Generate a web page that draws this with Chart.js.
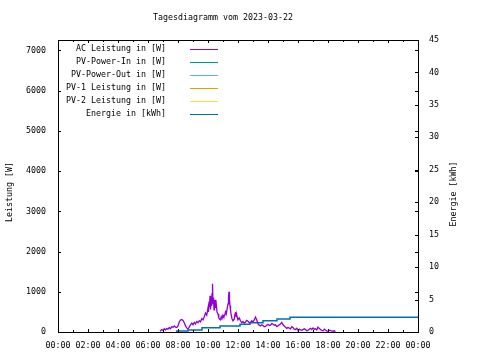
<!DOCTYPE html>
<html><head><meta charset="utf-8">
<script src="https://cdn.jsdelivr.net/npm/chart.js@4/dist/chart.umd.min.js"></script>
<style>html,body{margin:0;padding:0;background:#fff}#c{display:block}</style>
</head><body>
<canvas id="c" width="480" height="360"></canvas>
<script>
const chartTitle = 'Tagesdiagramm vom 2023-03-22';
const leftAxisTitle = 'Leistung [W]';
const rightAxisTitle = 'Energie [kWh]';
const seriesLabels = ['AC Leistung in [W]','PV-Power-In in [W]','PV-Power-Out in [W]','PV-1 Leistung in [W]','PV-2 Leistung in [W]','Energie in [kWh]'];
const seriesColors = ['#9400d3','#009e73','#56b4e9','#e69f00','#f0e442','#0072b2'];
const xTickHours = [0,2,4,6,8,10,12,14,16,18,20,22,24];
const leftTicks = [0,1000,2000,3000,4000,5000,6000,7000];
const rightTicks = [0,5,10,15,20,25,30,35,40,45];

const acTimes = ['06:48','06:55','07:00','07:05','07:10','07:15','07:20','07:25','07:30','07:35','07:40','07:45','07:50','07:55',
 '08:00','08:05','08:10','08:15','08:20','08:25','08:30','08:35','08:40','08:45','08:50','08:55',
 '09:00','09:05','09:10','09:15','09:20','09:25','09:30','09:35','09:40','09:45','09:50','09:55',
 '10:00','10:02','10:04','10:06','10:08','10:10','10:12','10:14','10:16','10:18','10:20','10:22','10:24','10:26','10:28','10:30','10:33','10:36','10:40','10:43','10:46','10:50','10:53','10:56',
 '11:00','11:03','11:06','11:10','11:13','11:16','11:20','11:22','11:24','11:26','11:28','11:30','11:32','11:36','11:40','11:45','11:48','11:50','11:53','11:55',
 '12:00','12:05','12:10','12:15','12:20','12:25','12:30','12:35','12:40','12:45','12:50','12:55','13:00','13:05','13:10','13:15','13:20','13:25','13:30','13:35','13:40','13:45','13:50','13:55',
 '14:00','14:05','14:10','14:15','14:20','14:25','14:30','14:35','14:40','14:45','14:50','14:55','15:00','15:05','15:10','15:15','15:20','15:25','15:30','15:35','15:40','15:45','15:50','15:55',
 '16:00','16:05','16:10','16:15','16:20','16:25','16:30','16:35','16:40','16:45','16:50','16:55','17:00','17:05','17:10','17:15','17:20','17:25','17:30','17:35','17:40','17:45','17:50','17:55','18:00','18:05','18:10','18:15','18:20','18:25','18:30'];
const acPower = [20,60,40,80,50,90,70,110,80,130,120,150,120,110,
 150,250,300,310,290,230,150,100,80,120,180,220,
 180,240,200,260,230,280,250,330,300,380,470,420,
 600,500,750,620,900,560,800,650,950,1200,700,850,550,650,800,600,700,500,450,350,320,300,380,330,
 420,380,400,500,450,560,700,850,1000,800,650,550,450,330,280,320,450,500,380,420,
 300,350,280,230,260,220,250,290,270,230,240,280,250,300,370,300,200,170,150,180,160,130,140,170,
 190,160,170,210,200,170,180,140,150,180,200,240,180,150,120,90,110,100,80,130,110,70,60,90,
 40,70,50,40,60,80,60,30,40,70,90,60,100,70,80,50,120,90,60,40,30,70,50,30,20,40,40,20,20,30,10];

const energyTimes = ['07:55','08:40','09:36','10:48','12:08','12:48','13:40','14:36','15:28','17:24','24:00'];
const energyKWh = [0,0.15,0.3,0.66,0.92,1.18,1.43,1.74,2.0,2.26,2.26];

const toH = s => { const [h,m] = s.split(':').map(Number); return h + m/60; };
const pts = (t, v) => t.map((s,i) => ({x: toH(s), y: v[i]}));

const FONT = 'DejaVu Sans Mono';
const FS = 8.3;

const datasets = seriesLabels.map((lab, i) => ({
  label: lab,
  data: [],
  borderColor: seriesColors[i],
  backgroundColor: seriesColors[i],
  borderWidth: 1,
  pointRadius: 0,
  fill: false,
  tension: 0,
  yAxisID: 'y'
}));
datasets[0].data = pts(acTimes, acPower);
datasets[0].borderWidth = 1.3;
datasets[5].data = pts(energyTimes, energyKWh);
datasets[5].yAxisID = 'y2';
datasets[5].stepped = 'after';
datasets[5].borderWidth = 1.5;

const deco = {
  id: 'deco',
  afterDatasetsDraw(chart) {
    const ctx = chart.ctx, a = chart.chartArea;
    const xs = chart.scales.x, ys = chart.scales.y, y2 = chart.scales.y2;
    ctx.save();
    ctx.strokeStyle = '#000'; ctx.lineWidth = 1;
    ctx.beginPath();
    for (let h = 0; h <= 24; h++) {
      const px = Math.round(xs.getPixelForValue(h)) + 0.5;
      const len = h % 2 === 0 ? 3 : 2;
      ctx.moveTo(px, a.bottom); ctx.lineTo(px, a.bottom - len);
      ctx.moveTo(px, a.top); ctx.lineTo(px, a.top + len);
    }
    leftTicks.forEach(v => {
      const py = Math.round(ys.getPixelForValue(v)) + 0.5;
      ctx.moveTo(a.left, py); ctx.lineTo(a.left + 3, py);
      ctx.moveTo(a.right, py); ctx.lineTo(a.right - 3, py);
    });
    rightTicks.forEach(v => {
      const py = Math.round(y2.getPixelForValue(v)) + 0.5;
      ctx.moveTo(a.right, py); ctx.lineTo(a.right - 3, py);
    });
    ctx.stroke();
    ctx.strokeRect(Math.round(a.left) + 0.5, Math.round(a.top) + 0.5, Math.round(a.right - a.left), Math.round(a.bottom - a.top));

    ctx.fillStyle = '#000';
    ctx.font = FS + 'px "' + FONT + '"';
    ctx.textBaseline = 'middle';
    ctx.textAlign = 'center';
    ctx.fillText(chartTitle, 223, 18);
    ctx.save(); ctx.translate(10, 192); ctx.rotate(-Math.PI/2); ctx.fillText(leftAxisTitle, 0, 0); ctx.restore();
    ctx.save(); ctx.translate(453.5, 194); ctx.rotate(-Math.PI/2); ctx.fillText(rightAxisTitle, 0, 0); ctx.restore();

    chart.data.datasets.forEach((d, i) => {
      const y = 49 + 13 * i;
      ctx.fillStyle = '#000'; ctx.textAlign = 'right';
      ctx.fillText(d.label, 166, y);
      ctx.strokeStyle = d.borderColor; ctx.lineWidth = 1;
      ctx.beginPath(); ctx.moveTo(190, Math.round(y) + 0.5); ctx.lineTo(218, Math.round(y) + 0.5); ctx.stroke();
    });
    ctx.restore();
  }
};

new Chart(document.getElementById('c'), {
  type: 'line',
  data: { datasets },
  options: {
    responsive: false, animation: false, devicePixelRatio: 1,
    layout: { padding: { top: 40, left: 0, right: 0, bottom: 0 } },
    plugins: { legend: { display: false }, title: { display: false }, tooltip: { enabled: false } },
    scales: {
      x: {
        type: 'linear', min: 0, max: 24,
        grid: { display: false, drawTicks: false }, border: { display: false },
        afterBuildTicks: s => { s.ticks = xTickHours.map(v => ({ value: v })); },
        afterFit: s => { s.height = 28; },
        ticks: { autoSkip: false, maxRotation: 0, padding: 9, color: '#000',
          font: { family: FONT, size: FS },
          callback: v => String(v % 24).padStart(2, '0') + ':00' }
      },
      y: {
        position: 'left', min: 0, max: 7260,
        grid: { display: false, drawTicks: false }, border: { display: false },
        afterBuildTicks: s => { s.ticks = leftTicks.map(v => ({ value: v })); },
        afterFit: s => { s.width = 58; },
        ticks: { padding: 12, color: '#000', font: { family: FONT, size: FS }, callback: v => String(v) }
      },
      y2: {
        position: 'right', min: 0, max: 45,
        grid: { display: false, drawTicks: false }, border: { display: false },
        afterBuildTicks: s => { s.ticks = rightTicks.map(v => ({ value: v })); },
        afterFit: s => { s.width = 62; },
        ticks: { padding: 11, color: '#000', font: { family: FONT, size: FS }, callback: v => String(v) }
      }
    }
  },
  plugins: [deco]
});
</script>
</body></html>
